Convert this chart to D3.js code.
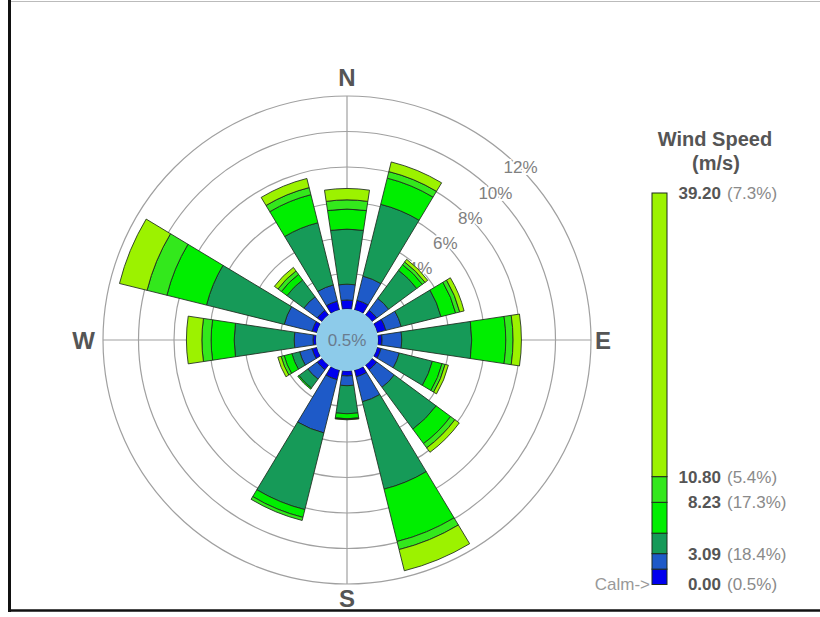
<!DOCTYPE html>
<html>
<head>
<meta charset="utf-8">
<script src="https://cdn.jsdelivr.net/npm/d3@7"></script>
<style>
  html, body { margin: 0; padding: 0; background: #fff; }
  svg { display: block; font-family: "Liberation Sans", Arial, sans-serif; }
</style>
</head>
<body>
<svg id="chart" width="820" height="617"></svg>
<script>
// ---- data -------------------------------------------------------------
const directions = ["N","NNE","NE","ENE","E","ESE","SE","SSE","S","SSW","SW","WSW","W","WNW","NW","NNW"];
const speedBreaks = [0.00, 1.54, 3.09, 5.14, 8.23, 10.80, 39.20];   // m/s class limits
const calmPct = 0.5;

// frequency (%) of each wind-speed class, by direction
const pct_000_154 = [0.51, 0.56, 0.34, 0.51, 0.23, 0.23, 0.34, 0.39, 0.28, 0.56, 0.34, 0.28, 0.17, 0.28, 0.34, 0.51];
const pct_154_309 = [0.89, 1.40, 0.83, 0.89, 1.11, 1.06, 1.23, 1.45, 0.55, 3.09, 0.66, 0.72, 1.06, 1.62, 0.94, 0.94];
const pct_309_514 = [3.10, 4.17, 1.97, 2.31, 3.94, 1.92, 2.93, 5.07, 1.58, 4.45, 0.62, 0.45, 3.38, 4.51, 1.18, 3.61];
const pct_514_823 = [1.13, 1.52, 0.39, 0.85, 1.92, 0.56, 1.01, 3.04, 0.28, 0.45, 0.08, 0.45, 1.30, 2.30, 0.39, 1.63];
const pct_823_1080 = [0.52, 0.38, 0.19, 0.24, 0.41, 0.18, 0.30, 0.47, 0.03, 0.18, 0.00, 0.18, 0.52, 1.15, 0.24, 0.41];
const pct_1080_3920 = [0.64, 0.56, 0.19, 0.25, 0.47, 0.19, 0.31, 1.23, 0.03, 0.00, 0.00, 0.19, 0.87, 1.60, 0.25, 0.53];

const ringTicks = [2, 4, 6, 8, 10, 12];
const ringLabelTicks = [4, 6, 8, 10, 12];
const compassPoints = ["N", "E", "S", "W"];

const legendTickValues = [39.20, 10.80, 8.23, 3.09, 0.00];
const legendTickPcts = ["(7.3%)", "(5.4%)", "(17.3%)", "(18.4%)", "(0.5%)"];

// ---- setup ------------------------------------------------------------
const svg = d3.select("#chart");
const cx = 347, cy = 340;
const classKeys = ["c0", "c1", "c2", "c3", "c4", "c5"];
const classSeries = [pct_000_154, pct_154_309, pct_309_514, pct_514_823, pct_823_1080, pct_1080_3920];
const classColor = d3.scaleOrdinal()
  .domain(classKeys)
  .range(["#0000ee", "#1e5ac8", "#169a58", "#00ee00", "#33e81c", "#9cf200"]);

const rows = directions.map((dir, i) => {
  const row = { dir };
  classKeys.forEach((k, j) => row[k] = classSeries[j][i]);
  return row;
});
const stacked = d3.stack().keys(classKeys)(rows);

const r = d3.scaleLinear().domain([0, 12]).range([31, 244]);
const step = 2 * Math.PI / directions.length;
const angle = d3.scaleBand()
  .domain(directions)
  .range([-step / 2, 2 * Math.PI - step / 2])
  .paddingInner(0.24)
  .paddingOuter(0.12);

// ---- frame ------------------------------------------------------------
svg.append("line").attr("x1", 8).attr("x2", 820).attr("y1", 1.5).attr("y2", 1.5)
  .attr("stroke", "#bbb").attr("stroke-width", 1);
svg.append("line").attr("x1", 9.5).attr("x2", 9.5).attr("y1", 0).attr("y2", 612)
  .attr("stroke", "#111").attr("stroke-width", 3);
svg.append("line").attr("x1", 8).attr("x2", 820).attr("y1", 610.5).attr("y2", 610.5)
  .attr("stroke", "#111").attr("stroke-width", 2.5);

// ---- polar grid ---------------------------------------------------------
const rose = svg.append("g").attr("transform", `translate(${cx},${cy})`);
const grid = rose.append("g");
grid.selectAll("circle.ring").data(ringTicks).join("circle")
  .attr("class", "ring")
  .attr("r", d => r(d))
  .attr("fill", "none")
  .attr("stroke", "#a0a0a0")
  .attr("stroke-width", 1.2);
const rMax = r(12);
grid.append("line").attr("x1", 0).attr("x2", 0).attr("y1", -rMax).attr("y2", rMax)
  .attr("stroke", "#a0a0a0").attr("stroke-width", 1.2);
grid.append("line").attr("x1", -rMax).attr("x2", rMax).attr("y1", 0).attr("y2", 0)
  .attr("stroke", "#a0a0a0").attr("stroke-width", 1.2);

// ring percentage labels along the NE diagonal
grid.selectAll("text.ringlabel").data(ringLabelTicks).join("text")
  .attr("class", "ringlabel")
  .attr("x", d => r(d) * Math.SQRT1_2 + 1)
  .attr("y", d => -r(d) * Math.SQRT1_2)
  .attr("dy", "0.35em")
  .attr("text-anchor", "middle")
  .attr("font-size", 17)
  .attr("fill", "#808080")
  .attr("stroke", "#fff")
  .attr("stroke-width", 4)
  .attr("paint-order", "stroke")
  .text(d => d + "%");

// ---- stacked petals -----------------------------------------------------
const arc = d3.arc()
  .innerRadius(d => r(d[0]))
  .outerRadius(d => r(d[1]))
  .startAngle(d => angle(d.data.dir))
  .endAngle(d => angle(d.data.dir) + angle.bandwidth());

rose.append("g").selectAll("g").data(stacked).join("g")
  .attr("fill", s => classColor(s.key))
  .selectAll("path")
  .data(s => s.filter(d => d[1] - d[0] > 0))
  .join("path")
  .attr("d", arc)
  .attr("stroke", "#1d2a1d")
  .attr("stroke-width", 1)
  .attr("stroke-opacity", 0.85);

// calm circle
rose.append("circle").attr("r", r(0)).attr("fill", "#8dcbea");
rose.append("text")
  .attr("dy", "0.35em")
  .attr("text-anchor", "middle")
  .attr("font-size", 17)
  .attr("fill", "#6a7c8e")
  .text(calmPct.toFixed(1) + "%");

// compass labels
const compassPos = {
  N: { x: 0, y: -rMax - 10, anchor: "middle" },
  E: { x: rMax + 4, y: 8.5, anchor: "start" },
  S: { x: 0, y: rMax + 23, anchor: "middle" },
  W: { x: -rMax - 8, y: 8.5, anchor: "end" }
};
rose.selectAll("text.compass").data(compassPoints).join("text")
  .attr("class", "compass")
  .attr("x", d => compassPos[d].x)
  .attr("y", d => compassPos[d].y)
  .attr("text-anchor", d => compassPos[d].anchor)
  .attr("font-size", 24)
  .attr("font-weight", "bold")
  .attr("fill", "#555")
  .text(d => d);

// ---- legend -------------------------------------------------------------
const legend = svg.append("g");
legend.append("text").attr("x", 715).attr("y", 146)
  .attr("text-anchor", "middle").attr("font-size", 20).attr("font-weight", "bold")
  .attr("fill", "#555").text("Wind Speed");
legend.append("text").attr("x", 716).attr("y", 170)
  .attr("text-anchor", "middle").attr("font-size", 20).attr("font-weight", "bold")
  .attr("fill", "#555").text("(m/s)");

const ly = d3.scaleLinear().domain([0, 39.2]).range([584.5, 193]);
const classBins = classKeys.map((k, i) => ({ key: k, lo: speedBreaks[i], hi: speedBreaks[i + 1] }));
legend.selectAll("rect.bin").data(classBins).join("rect")
  .attr("class", "bin")
  .attr("x", 652)
  .attr("width", 15)
  .attr("y", d => ly(d.hi))
  .attr("height", d => ly(d.lo) - ly(d.hi))
  .attr("fill", d => classColor(d.key))
  .attr("stroke", "#1d2a1d")
  .attr("stroke-width", 1);

const ticks = legend.selectAll("g.tick").data(legendTickValues).join("g")
  .attr("class", "tick")
  .attr("transform", d => `translate(0,${ly(d)})`);
ticks.append("text")
  .attr("x", 721).attr("dy", "0.35em")
  .attr("text-anchor", "end")
  .attr("font-size", 17).attr("font-weight", "bold").attr("fill", "#555")
  .text(d => d.toFixed(2));
ticks.append("text")
  .attr("x", 727).attr("dy", "0.35em")
  .attr("text-anchor", "start")
  .attr("font-size", 17).attr("fill", "#8a8a8a")
  .text((d, i) => legendTickPcts[i]);

legend.append("text").attr("x", 650).attr("y", ly(0)).attr("dy", "0.35em")
  .attr("text-anchor", "end").attr("font-size", 17).attr("fill", "#999")
  .text("Calm->");
</script>
</body>
</html>
